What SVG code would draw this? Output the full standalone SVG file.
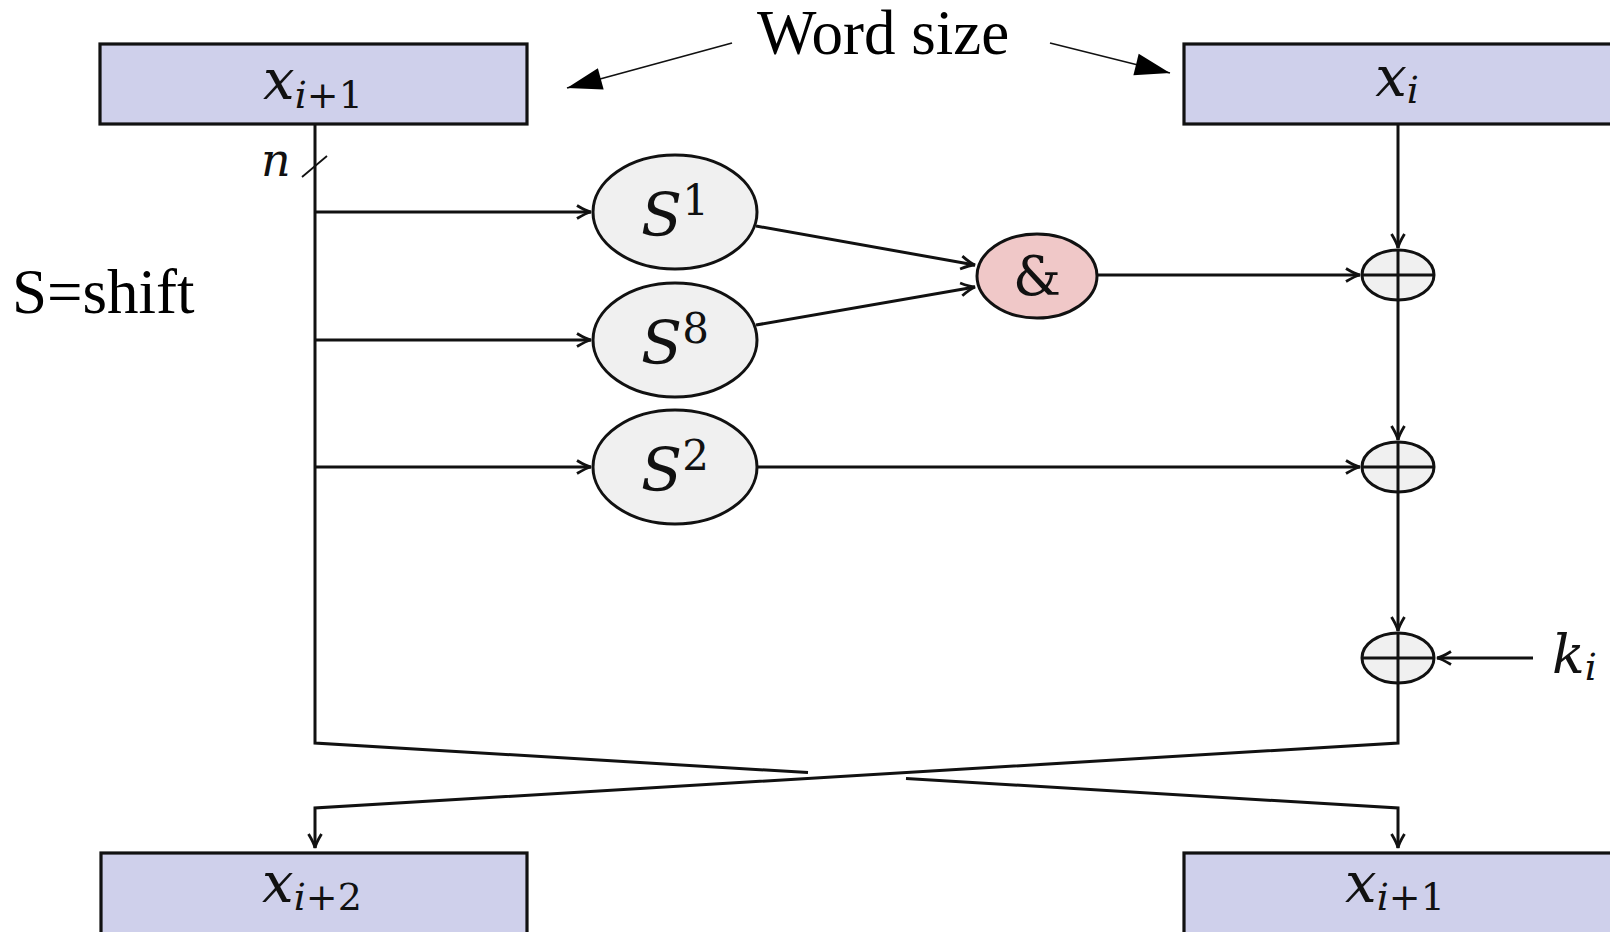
<svg xmlns="http://www.w3.org/2000/svg" width="1610" height="932" viewBox="0 0 1610 932">
<defs>
<style>
.box{fill:#cfd0eb;stroke:#111;stroke-width:3.2}
.op{fill:#f0f0f0;stroke:#111;stroke-width:3}
.and{fill:#f0c8c8;stroke:#111;stroke-width:3}
.ln{fill:none;stroke:#111;stroke-width:3}
.thin{fill:none;stroke:#111;stroke-width:1.8}
.m{font-family:"DejaVu Serif","Liberation Serif",serif;font-style:italic;fill:#111}
.up{font-style:normal}
.t{font-family:"Liberation Serif","Times New Roman",serif;fill:#000}
</style>
<marker id="a" viewBox="-16 -8 18 16" refX="0" refY="0" markerWidth="18" markerHeight="16" markerUnits="userSpaceOnUse" orient="auto">
<path d="M-14,-6.5 Q-5,-1 0,0 Q-5,1 -14,6.5" fill="none" stroke="#111" stroke-width="2.8"/>
</marker>
<marker id="big" viewBox="-36 -12 37 24" refX="0" refY="0" markerWidth="37" markerHeight="24" markerUnits="userSpaceOnUse" orient="auto">
<path d="M0,0 L-35,-11 L-35,11 Z" fill="#000"/>
</marker>
</defs>

<g id="connectors">
<path class="ln" d="M315,124 V743 L808,772.6"/>
<path class="ln" d="M906,778.5 L1398,808 V848" marker-end="url(#a)"/>
<path class="ln" d="M1398,683 V743 L315,808 V848" marker-end="url(#a)"/>
<path class="ln" d="M315,212 H591" marker-end="url(#a)"/>
<path class="ln" d="M315,340 H591" marker-end="url(#a)"/>
<path class="ln" d="M315,467 H591" marker-end="url(#a)"/>
<path class="ln" d="M756,226 L975,265" marker-end="url(#a)"/>
<path class="ln" d="M756,325 L975,287" marker-end="url(#a)"/>
<path class="ln" d="M1097,275 H1360" marker-end="url(#a)"/>
<path class="ln" d="M757,467 H1360" marker-end="url(#a)"/>
<path class="ln" d="M1398,124 V248" marker-end="url(#a)"/>
<path class="ln" d="M1398,300 V440" marker-end="url(#a)"/>
<path class="ln" d="M1398,492 V631" marker-end="url(#a)"/>
<path class="ln" d="M1533,658 H1437" marker-end="url(#a)"/>
<path class="thin" d="M302,177 L327,156"/>
<path class="thin" d="M732,43 L567,88" marker-end="url(#big)"/>
<path class="thin" d="M1050,43 L1170,73" marker-end="url(#big)"/>
</g>

<g id="box-xi1-top">
<rect class="box" x="100" y="44" width="427" height="80"/>
<text class="m" x="313" y="99" font-size="56" text-anchor="middle">x<tspan font-size="38" dy="9">i<tspan class="up">+1</tspan></tspan></text>
</g>
<g id="box-xi-top">
<rect class="box" x="1184" y="44" width="430" height="80"/>
<text class="m" x="1397" y="96" font-size="56" text-anchor="middle">x<tspan font-size="38" dy="7">i</tspan></text>
</g>
<g id="box-xi2-bottom">
<rect class="box" x="101" y="853" width="426" height="84"/>
<text class="m" x="312" y="902" font-size="56" text-anchor="middle">x<tspan font-size="38" dy="8">i<tspan class="up">+2</tspan></tspan></text>
</g>
<g id="box-xi1-bottom">
<rect class="box" x="1184" y="853" width="430" height="84"/>
<text class="m" x="1395" y="902" font-size="56" text-anchor="middle">x<tspan font-size="38" dy="8">i<tspan class="up">+1</tspan></tspan></text>
</g>

<g id="s1">
<ellipse class="op" cx="675" cy="212" rx="82" ry="57"/>
<text class="m" x="675" y="236" font-size="60" text-anchor="middle">S<tspan class="up" font-size="42" dy="-21">1</tspan></text>
</g>
<g id="s8">
<ellipse class="op" cx="675" cy="340" rx="82" ry="57"/>
<text class="m" x="675" y="364" font-size="60" text-anchor="middle">S<tspan class="up" font-size="42" dy="-21">8</tspan></text>
</g>
<g id="s2">
<ellipse class="op" cx="675" cy="467" rx="82" ry="57"/>
<text class="m" x="675" y="491" font-size="60" text-anchor="middle">S<tspan class="up" font-size="42" dy="-21">2</tspan></text>
</g>
<g id="and">
<ellipse class="and" cx="1037" cy="276" rx="60" ry="42"/>
<text class="m up" x="1037" y="295" font-size="54" text-anchor="middle">&amp;</text>
</g>

<g id="xor1">
<ellipse class="op" cx="1398" cy="275" rx="36" ry="25"/>
<path class="ln" d="M1362,275 H1434 M1398,250 V300"/>
</g>
<g id="xor2">
<ellipse class="op" cx="1398" cy="467" rx="36" ry="25"/>
<path class="ln" d="M1362,467 H1434 M1398,442 V492"/>
</g>
<g id="xor3">
<ellipse class="op" cx="1398" cy="658" rx="36" ry="25"/>
<path class="ln" d="M1362,658 H1434 M1398,633 V683"/>
</g>

<g id="labels">
<text class="m" x="261" y="176" font-size="46">n</text>
<text class="m" x="1552" y="673" font-size="54">k<tspan font-size="38" dy="7">i</tspan></text>
<text class="t" x="757" y="54" font-size="63">Word size</text>
<text class="t" x="12" y="313" font-size="63">S=shift</text>
</g>
</svg>
